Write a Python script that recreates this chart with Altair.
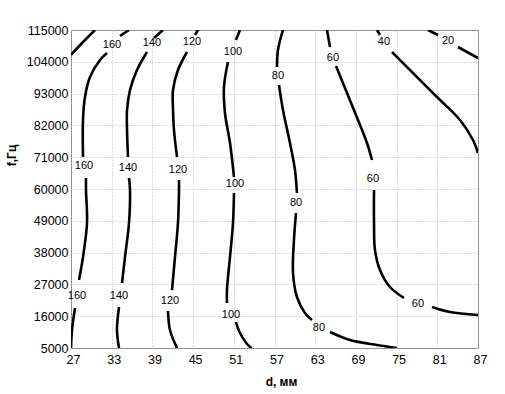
import altair as alt
import pandas as pd

# Axis ticks
x_ticks = [27, 33, 39, 45, 51, 57, 63, 69, 75, 81, 87]
y_ticks = [5000, 16000, 27000, 38000, 49000, 60000, 71000, 82000, 93000, 104000, 115000]

# Contour lines (d in mm, f in Hz); p = piece index (gaps where labels sit)
c180_d = [27.0, 28.77, 30.54]
c180_f = [106400, 110850, 115000]
c180_p = [0, 0, 0]

c160_d = [35.55, 34.22, 32.31, 31.28, 29.80, 29.06, 28.77, 28.77, 29.21, 29.21, 29.36, 28.77, 28.18, 27.59, 27.15, 27.0]
c160_f = [115000, 112920, 107040, 104620, 98740, 91820, 83870, 71070, 63800, 59650, 48240, 36480, 28520, 18840, 11230, 5000]
c160_p = [0, 0, 1, 1, 1, 1, 1, 1, 2, 2, 2, 2, 2, 3, 3, 3]

c140_d = [40.56, 39.24, 38.20, 36.73, 35.70, 35.26, 35.26, 35.40, 35.55, 35.70, 35.55, 34.96, 34.52, 34.08, 33.78, 34.08]
c140_f = [115000, 112230, 107390, 101160, 94240, 87330, 80410, 71070, 63800, 59650, 48240, 36480, 27480, 19180, 11230, 5000]
c140_p = [0, 0, 1, 1, 1, 1, 1, 1, 2, 2, 2, 2, 2, 3, 3, 3]

c120_d = [45.72, 45.28, 44.10, 42.77, 42.04, 42.04, 42.18, 42.63, 42.92, 42.92, 42.77, 42.33, 41.89, 41.30, 41.59, 42.63]
c120_f = [115000, 113270, 107390, 101160, 94240, 87330, 80410, 71070, 63110, 59650, 48240, 36480, 25060, 17800, 11230, 5000]
c120_p = [0, 0, 1, 1, 1, 1, 1, 1, 2, 2, 2, 2, 2, 3, 3, 3]

c100_d = [51.91, 51.32, 50.14, 49.55, 49.70, 50.44, 51.03, 51.03, 50.88, 50.44, 49.99, 49.99, 51.32, 51.91, 53.39, 53.68]
c100_f = [115000, 111540, 103930, 95280, 86290, 75910, 64150, 58620, 48240, 36480, 25060, 20570, 13990, 10190, 5350, 5000]
c100_p = [0, 0, 1, 1, 1, 1, 1, 2, 2, 2, 2, 2, 3, 3, 3, 3]

c80_d = [58.25, 57.51, 57.37, 57.66, 58.25, 59.28, 60.02, 60.31, 60.17, 59.87, 59.73, 60.31, 61.49, 62.53, 65.18, 68.13, 72.11, 75.06]
c80_f = [115000, 108080, 102200, 95970, 87330, 75910, 66570, 58620, 51700, 42360, 30940, 22640, 17110, 14690, 10530, 7770, 6040, 5000]
c80_p = [0, 0, 0, 1, 1, 1, 1, 1, 2, 2, 2, 2, 2, 2, 3, 3, 3, 3]

c60_d = [64.74, 65.18, 66.07, 67.69, 69.31, 70.64, 71.37, 71.67, 71.67, 71.81, 72.55, 74.02, 76.09, 80.22, 82.87, 87.0]
c60_f = [115000, 109120, 102550, 93200, 83870, 75910, 70030, 59650, 48240, 38900, 31980, 26100, 22300, 19180, 17450, 16410]
c60_p = [0, 0, 1, 1, 1, 1, 1, 2, 2, 2, 2, 2, 2, 3, 3, 3]

c40_d = [72.11, 72.55, 74.32, 76.97, 80.95, 84.34, 86.26, 87.0]
c40_f = [115000, 113270, 107390, 101160, 91820, 83870, 76950, 72450]
c40_p = [0, 0, 1, 1, 1, 1, 1, 1]

c20_d = [79.63, 81.10, 84.05, 87.0]
c20_f = [115000, 113270, 109120, 105310]
c20_p = [0, 0, 1, 1]

# Contour labels
lab_text = ["160", "160", "160", "140", "140", "140", "120", "120", "120",
            "100", "100", "100", "80", "80", "80", "60", "60", "60", "40", "20"]
lab_d = [33.04, 28.92, 27.88, 38.94, 35.40, 34.08, 44.84, 42.77, 41.59,
         50.88, 51.18, 50.59, 57.51, 60.17, 63.56, 65.62, 71.52, 78.15, 73.14, 82.58]
lab_f = [109810, 67950, 22990, 110500, 67260, 22990, 110850, 66570, 21260,
         107390, 61730, 16410, 99090, 55160, 11920, 105310, 63460, 20220, 110850, 111190]

contours = {
    "180": (c180_d, c180_f, c180_p),
    "160": (c160_d, c160_f, c160_p),
    "140": (c140_d, c140_f, c140_p),
    "120": (c120_d, c120_f, c120_p),
    "100": (c100_d, c100_f, c100_p),
    "80": (c80_d, c80_f, c80_p),
    "60": (c60_d, c60_f, c60_p),
    "40": (c40_d, c40_f, c40_p),
    "20": (c20_d, c20_f, c20_p),
}

rows = []
for lvl, (ds, fs, ps) in contours.items():
    for i, (a, b, c) in enumerate(zip(ds, fs, ps)):
        rows.append({"piece": f"{lvl}-{c}", "i": i, "d": a, "f": b})
df_lines = pd.DataFrame(rows)
df_labels = pd.DataFrame({"d": lab_d, "f": lab_f, "text": lab_text})

FONT = "Liberation Sans"

x_enc = alt.X(
    "d:Q",
    scale=alt.Scale(domain=[27, 87], nice=False, zero=False),
    axis=alt.Axis(
        values=x_ticks, tickCount=30, title="d, мм", labelPadding=5, labelFontSize=12.5,
        labelFont=FONT, labelColor="#000000", labelOffset=2, labelOverlap=False,
        labelFlush=False,
        titleFont=FONT, titleFontSize=12, titleFontWeight="bold", titleColor="#000000",
        titleX=210, titleY=37, titleBaseline="alphabetic", titleAlign="center",
        grid=True, gridColor="#b8b8b8", gridDash=[1, 2], gridWidth=1,
        ticks=False, domain=False,
    ),
)
y_enc = alt.Y(
    "f:Q",
    scale=alt.Scale(domain=[5000, 115000], nice=False, zero=False),
    axis=alt.Axis(
        values=y_ticks, tickCount=30, title="f,Гц", labelPadding=3, labelFontSize=12.5,
        labelFont=FONT, labelColor="#000000", format="d", labelOverlap=False,
        labelFlush=False,
        titleFont=FONT, titleFontSize=12, titleFontWeight="bold", titleColor="#000000",
        titleAngle=270, titleX=-56, titleY=125, titleBaseline="alphabetic", titleAlign="center",
        grid=True, gridColor="#b8b8b8", gridDash=[1, 2], gridWidth=1,
        ticks=False, domain=False,
    ),
)

lines = alt.Chart(df_lines).mark_line(
    color="black", strokeWidth=2.6, clip=True, interpolate="catmull-rom"
).encode(
    x=x_enc, y=y_enc, detail="piece:N", order="i:Q"
)
labels = alt.Chart(df_labels).mark_text(fontSize=11, font=FONT, color="black").encode(
    x="d:Q", y="f:Q", text="text:N"
)

chart = (
    alt.layer(lines, labels)
    .properties(
        width=407, height=318,
        padding={"left": 71, "top": 30, "right": 27, "bottom": 46},
        autosize=alt.AutoSizeParams(type="none"),
        background="white",
    )
    .configure_view(stroke="#808080", strokeWidth=1)
)

chart.save("out.html", embed_options={"renderer": "svg", "actions": False})
